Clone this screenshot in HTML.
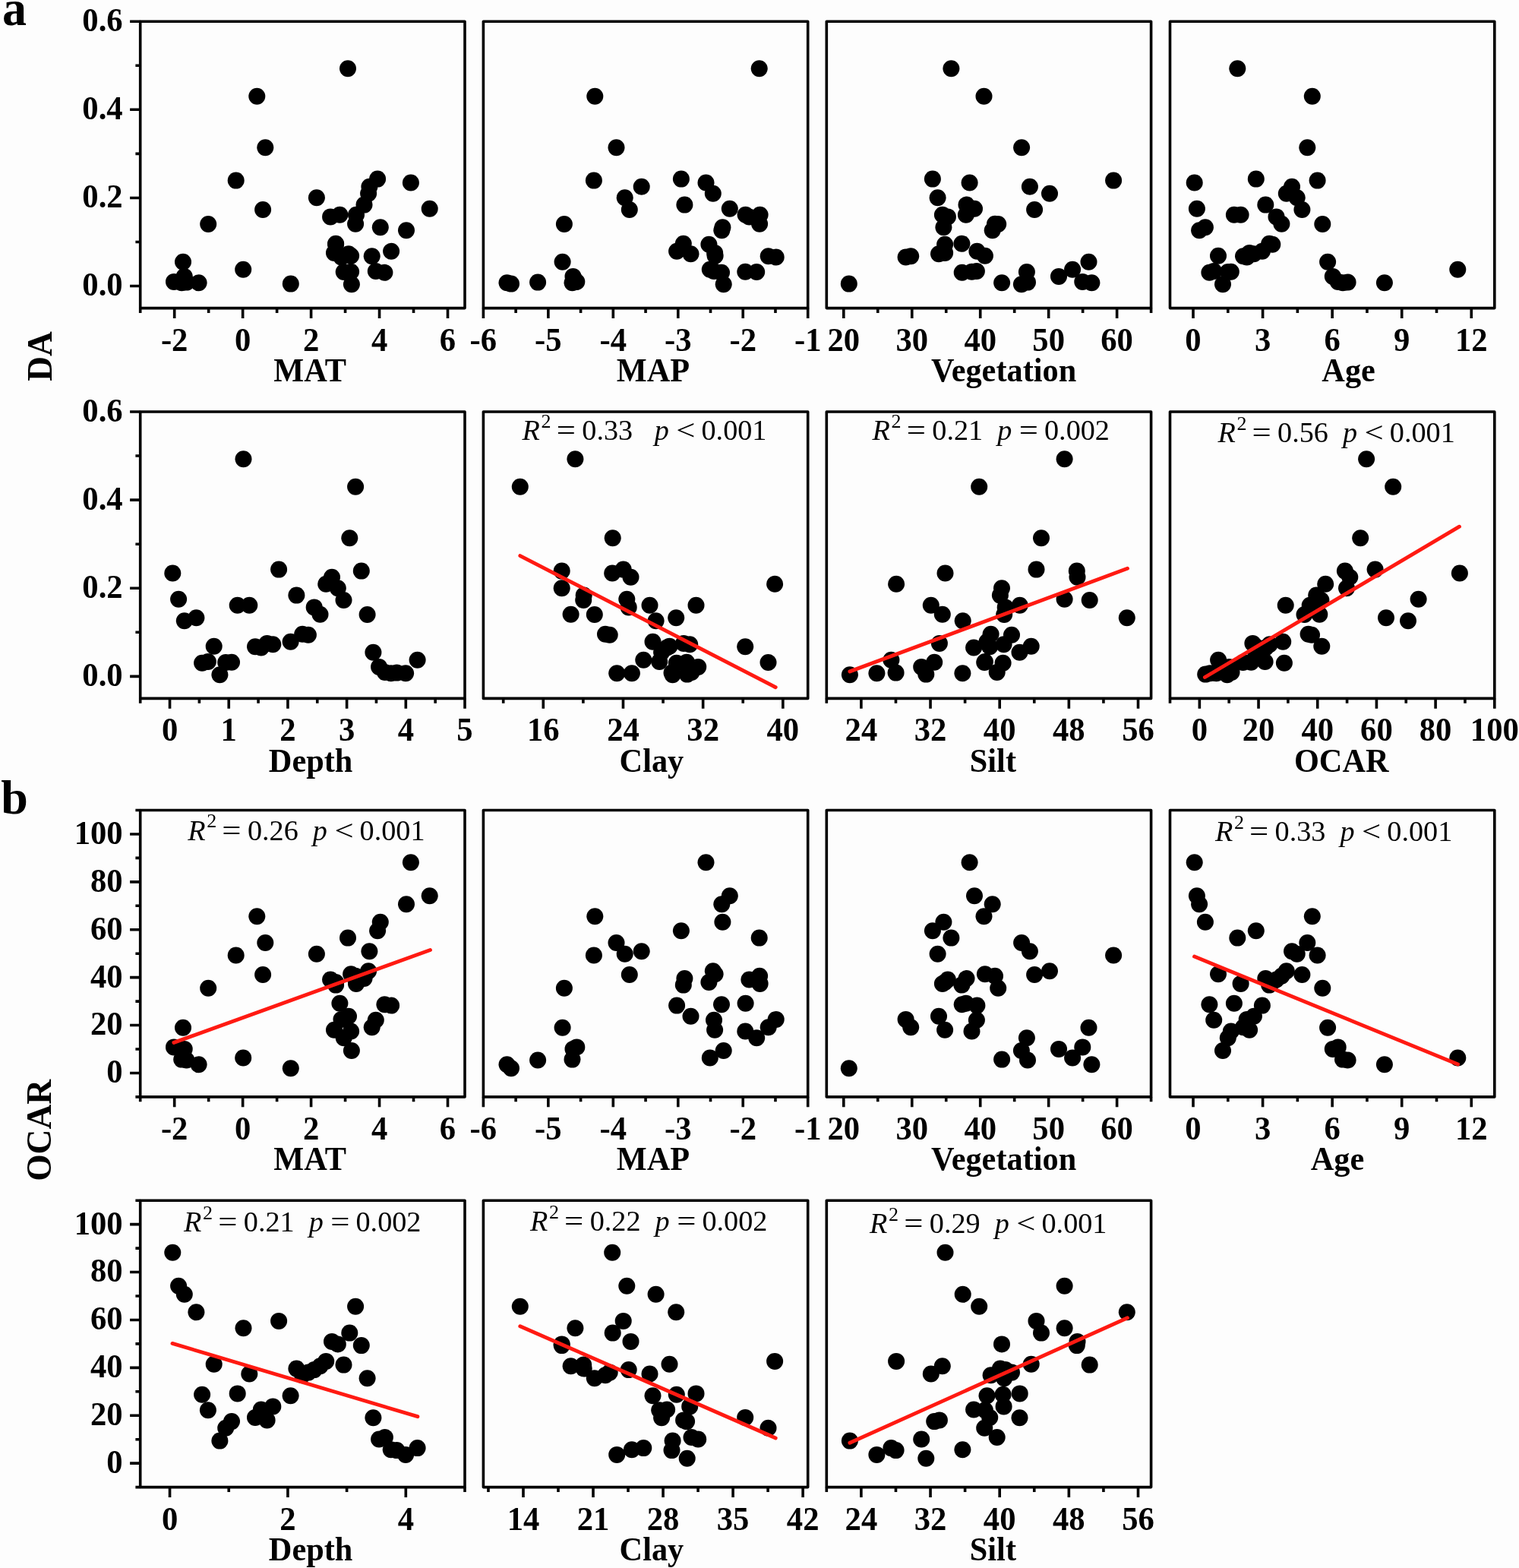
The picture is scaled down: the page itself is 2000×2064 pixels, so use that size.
<!DOCTYPE html>
<html lang="en"><head><meta charset="utf-8"><title>Figure</title>
<style>html,body{margin:0;padding:0;background:#fff}svg{display:block}text{font-family:"Liberation Serif","Times New Roman",serif;fill:#000}.b{font-weight:bold}.t{font-size:42px;font-weight:bold}.l{font-size:42px;font-weight:bold}.an{font-size:38.2px}.i{font-style:italic}</style></head><body>
<svg width="2000" height="2064" viewBox="0 0 2000 2064">
<rect width="2000" height="2064" fill="#fdfdfd"/>
<g id="a_MAT">
<g fill="#000"><circle cx="540.9" cy="240.5" r="11"/><circle cx="565.7" cy="274.8" r="11"/><circle cx="535" cy="303.2" r="11"/><circle cx="500.8" cy="299.2" r="11"/><circle cx="506.4" cy="358.8" r="11"/><circle cx="494.8" cy="357" r="11"/><circle cx="462.1" cy="336.7" r="11"/><circle cx="462.9" cy="374.3" r="11"/><circle cx="452.7" cy="358" r="11"/><circle cx="462.1" cy="357.7" r="11"/><circle cx="447.4" cy="282.8" r="11"/><circle cx="458" cy="90.2" r="11"/><circle cx="469" cy="282.8" r="11"/><circle cx="489.7" cy="337.2" r="11"/><circle cx="449.5" cy="338.5" r="11"/><circle cx="440" cy="332.9" r="11"/><circle cx="459" cy="334.3" r="11"/><circle cx="497.1" cy="235.6" r="11"/><circle cx="515.1" cy="330.8" r="11"/><circle cx="479.5" cy="269.6" r="11"/><circle cx="442.1" cy="320.8" r="11"/><circle cx="442.1" cy="321.7" r="11"/><circle cx="435.1" cy="285.4" r="11"/><circle cx="468.1" cy="294.8" r="11"/><circle cx="485.1" cy="254.8" r="11"/><circle cx="486.4" cy="245.8" r="11"/><circle cx="416.9" cy="260.2" r="11"/><circle cx="346.1" cy="276" r="11"/><circle cx="349.3" cy="194.2" r="11"/><circle cx="338.3" cy="126.8" r="11"/><circle cx="310.7" cy="237.6" r="11"/><circle cx="274.2" cy="295" r="11"/><circle cx="241" cy="344.7" r="11"/><circle cx="242.7" cy="363.9" r="11"/><circle cx="229" cy="370.9" r="11"/><circle cx="239.2" cy="372.3" r="11"/><circle cx="245.6" cy="371.6" r="11"/><circle cx="261.6" cy="372.2" r="11"/><circle cx="320.2" cy="354.8" r="11"/><circle cx="382.8" cy="373.6" r="11"/></g>
<rect x="184.7" y="28.2" width="427.3" height="377.4" fill="none" stroke="#000" stroke-width="3.6" stroke-linejoin="round"/>
<path d="M229.68 405.6v13.4M319.64 405.6v13.4M409.59 405.6v13.4M499.55 405.6v13.4M589.51 405.6v13.4M184.7 405.6v6.3M274.66 405.6v6.3M364.62 405.6v6.3M454.57 405.6v6.3M544.53 405.6v6.3M184.7 376.57h-13.6M184.7 260.45h-13.6M184.7 144.32h-13.6M184.7 28.2h-13.6M184.7 318.51h-6.3M184.7 202.38h-6.3M184.7 86.26h-6.3" stroke="#000" stroke-width="3.6" fill="none"/>
<text class="t" transform="translate(229.68 461.6) scale(1.016 1.038)" text-anchor="middle">-2</text>
<text class="t" transform="translate(319.64 461.6) scale(1.016 1.038)" text-anchor="middle">0</text>
<text class="t" transform="translate(409.59 461.6) scale(1.016 1.038)" text-anchor="middle">2</text>
<text class="t" transform="translate(499.55 461.6) scale(1.016 1.038)" text-anchor="middle">4</text>
<text class="t" transform="translate(589.51 461.6) scale(1.016 1.038)" text-anchor="middle">6</text>
<text class="t" transform="translate(161.7 389.47) scale(1.016 1.038)" text-anchor="end">0.0</text>
<text class="t" transform="translate(161.7 273.35) scale(1.016 1.038)" text-anchor="end">0.2</text>
<text class="t" transform="translate(161.7 157.22) scale(1.016 1.038)" text-anchor="end">0.4</text>
<text class="t" transform="translate(161.7 41.1) scale(1.016 1.038)" text-anchor="end">0.6</text>
<text class="l" transform="translate(408.1 501.9) scale(1.008 1.035)" text-anchor="middle">MAT</text>
</g>
<g id="a_MAP">
<g fill="#000"><circle cx="929.5" cy="240.5" r="11"/><circle cx="960.8" cy="274.8" r="11"/><circle cx="950.3" cy="303.2" r="11"/><circle cx="951.4" cy="299.2" r="11"/><circle cx="950" cy="358.8" r="11"/><circle cx="940" cy="357" r="11"/><circle cx="941.6" cy="336.7" r="11"/><circle cx="952.7" cy="374.3" r="11"/><circle cx="996.2" cy="358" r="11"/><circle cx="981.3" cy="357.7" r="11"/><circle cx="981.6" cy="282.8" r="11"/><circle cx="999.7" cy="90.2" r="11"/><circle cx="1000.6" cy="282.8" r="11"/><circle cx="1011.7" cy="337.2" r="11"/><circle cx="1021.7" cy="338.5" r="11"/><circle cx="941.1" cy="332.9" r="11"/><circle cx="909.5" cy="334.3" r="11"/><circle cx="896.9" cy="235.6" r="11"/><circle cx="891.1" cy="330.8" r="11"/><circle cx="901.4" cy="269.6" r="11"/><circle cx="899.8" cy="320.8" r="11"/><circle cx="933.4" cy="321.7" r="11"/><circle cx="986.4" cy="285.4" r="11"/><circle cx="1000.1" cy="294.8" r="11"/><circle cx="938.8" cy="254.8" r="11"/><circle cx="844.7" cy="245.8" r="11"/><circle cx="822.7" cy="260.2" r="11"/><circle cx="828.8" cy="276" r="11"/><circle cx="811.5" cy="194.2" r="11"/><circle cx="783.3" cy="126.8" r="11"/><circle cx="781.9" cy="237.6" r="11"/><circle cx="742.9" cy="295" r="11"/><circle cx="740.6" cy="344.7" r="11"/><circle cx="754.5" cy="363.9" r="11"/><circle cx="759.3" cy="370.9" r="11"/><circle cx="753.5" cy="372.3" r="11"/><circle cx="708.1" cy="371.6" r="11"/><circle cx="667.5" cy="372.2" r="11"/><circle cx="934.8" cy="354.8" r="11"/><circle cx="673" cy="373.6" r="11"/></g>
<rect x="636.4" y="28.2" width="427.3" height="377.4" fill="none" stroke="#000" stroke-width="3.6" stroke-linejoin="round"/>
<path d="M636.4 405.6v13.4M721.86 405.6v13.4M807.32 405.6v13.4M892.78 405.6v13.4M978.24 405.6v13.4M1063.7 405.6v13.4M679.13 405.6v6.3M764.59 405.6v6.3M850.05 405.6v6.3M935.51 405.6v6.3M1020.97 405.6v6.3" stroke="#000" stroke-width="3.6" fill="none"/>
<text class="t" transform="translate(636.4 461.6) scale(1.016 1.038)" text-anchor="middle">-6</text>
<text class="t" transform="translate(721.86 461.6) scale(1.016 1.038)" text-anchor="middle">-5</text>
<text class="t" transform="translate(807.32 461.6) scale(1.016 1.038)" text-anchor="middle">-4</text>
<text class="t" transform="translate(892.78 461.6) scale(1.016 1.038)" text-anchor="middle">-3</text>
<text class="t" transform="translate(978.24 461.6) scale(1.016 1.038)" text-anchor="middle">-2</text>
<text class="t" transform="translate(1063.7 461.6) scale(1.016 1.038)" text-anchor="middle">-1</text>
<text class="l" transform="translate(860 501.9) scale(1.008 1.035)" text-anchor="middle">MAP</text>
</g>
<g id="a_Veg">
<g fill="#000"><circle cx="1276.6" cy="240.5" r="11"/><circle cx="1283" cy="274.8" r="11"/><circle cx="1306.7" cy="303.2" r="11"/><circle cx="1242.4" cy="299.2" r="11"/><circle cx="1266.7" cy="358.8" r="11"/><circle cx="1285.9" cy="357" r="11"/><circle cx="1296.9" cy="336.7" r="11"/><circle cx="1344.9" cy="374.3" r="11"/><circle cx="1351.9" cy="358" r="11"/><circle cx="1279.5" cy="357.7" r="11"/><circle cx="1271.9" cy="282.8" r="11"/><circle cx="1252.4" cy="90.2" r="11"/><circle cx="1240.9" cy="282.8" r="11"/><circle cx="1199.2" cy="337.2" r="11"/><circle cx="1192.6" cy="338.5" r="11"/><circle cx="1244.1" cy="332.9" r="11"/><circle cx="1236" cy="334.3" r="11"/><circle cx="1227.9" cy="235.6" r="11"/><circle cx="1286.4" cy="330.8" r="11"/><circle cx="1272.5" cy="269.6" r="11"/><circle cx="1266.4" cy="320.8" r="11"/><circle cx="1244.1" cy="321.7" r="11"/><circle cx="1247.9" cy="285.4" r="11"/><circle cx="1310" cy="294.8" r="11"/><circle cx="1382" cy="254.8" r="11"/><circle cx="1355.9" cy="245.8" r="11"/><circle cx="1234.6" cy="260.2" r="11"/><circle cx="1362.1" cy="276" r="11"/><circle cx="1345.1" cy="194.2" r="11"/><circle cx="1295.5" cy="126.8" r="11"/><circle cx="1466.1" cy="237.6" r="11"/><circle cx="1314.2" cy="295" r="11"/><circle cx="1433.5" cy="344.7" r="11"/><circle cx="1394" cy="363.9" r="11"/><circle cx="1425.3" cy="370.9" r="11"/><circle cx="1319.1" cy="372.3" r="11"/><circle cx="1353" cy="371.6" r="11"/><circle cx="1437.4" cy="372.2" r="11"/><circle cx="1412.1" cy="354.8" r="11"/><circle cx="1117.8" cy="373.6" r="11"/></g>
<rect x="1088.3" y="28.2" width="427.3" height="377.4" fill="none" stroke="#000" stroke-width="3.6" stroke-linejoin="round"/>
<path d="M1110.79 405.6v13.4M1200.75 405.6v13.4M1290.71 405.6v13.4M1380.66 405.6v13.4M1470.62 405.6v13.4M1155.77 405.6v6.3M1245.73 405.6v6.3M1335.68 405.6v6.3M1425.64 405.6v6.3M1515.6 405.6v6.3" stroke="#000" stroke-width="3.6" fill="none"/>
<text class="t" transform="translate(1110.79 461.6) scale(1.016 1.038)" text-anchor="middle">20</text>
<text class="t" transform="translate(1200.75 461.6) scale(1.016 1.038)" text-anchor="middle">30</text>
<text class="t" transform="translate(1290.71 461.6) scale(1.016 1.038)" text-anchor="middle">40</text>
<text class="t" transform="translate(1380.66 461.6) scale(1.016 1.038)" text-anchor="middle">50</text>
<text class="t" transform="translate(1470.62 461.6) scale(1.016 1.038)" text-anchor="middle">60</text>
<text class="l" transform="translate(1321.6 501.9) scale(1.008 1.035)" text-anchor="middle">Vegetation</text>
</g>
<g id="a_Age">
<g fill="#000"><circle cx="1572.7" cy="240.5" r="11"/><circle cx="1575.9" cy="274.8" r="11"/><circle cx="1579.1" cy="303.2" r="11"/><circle cx="1586.9" cy="299.2" r="11"/><circle cx="1592.4" cy="358.8" r="11"/><circle cx="1598.2" cy="357" r="11"/><circle cx="1604" cy="336.7" r="11"/><circle cx="1610" cy="374.3" r="11"/><circle cx="1616.8" cy="358" r="11"/><circle cx="1620.8" cy="357.7" r="11"/><circle cx="1624.9" cy="282.8" r="11"/><circle cx="1629.3" cy="90.2" r="11"/><circle cx="1633.6" cy="282.8" r="11"/><circle cx="1637" cy="337.2" r="11"/><circle cx="1641.7" cy="338.5" r="11"/><circle cx="1645.1" cy="332.9" r="11"/><circle cx="1650.9" cy="334.3" r="11"/><circle cx="1653.8" cy="235.6" r="11"/><circle cx="1661.9" cy="330.8" r="11"/><circle cx="1666.3" cy="269.6" r="11"/><circle cx="1671.2" cy="320.8" r="11"/><circle cx="1675.3" cy="321.7" r="11"/><circle cx="1680.5" cy="285.4" r="11"/><circle cx="1687.4" cy="294.8" r="11"/><circle cx="1693.8" cy="254.8" r="11"/><circle cx="1701" cy="245.8" r="11"/><circle cx="1707.7" cy="260.2" r="11"/><circle cx="1714.4" cy="276" r="11"/><circle cx="1721.3" cy="194.2" r="11"/><circle cx="1727.8" cy="126.8" r="11"/><circle cx="1734.6" cy="237.6" r="11"/><circle cx="1741.3" cy="295" r="11"/><circle cx="1748.1" cy="344.7" r="11"/><circle cx="1754.8" cy="363.9" r="11"/><circle cx="1761.7" cy="370.9" r="11"/><circle cx="1768" cy="372.3" r="11"/><circle cx="1774.6" cy="371.6" r="11"/><circle cx="1822.9" cy="372.2" r="11"/><circle cx="1919.3" cy="354.8" r="11"/></g>
<rect x="1540.5" y="28.2" width="427.3" height="377.4" fill="none" stroke="#000" stroke-width="3.6" stroke-linejoin="round"/>
<path d="M1571.02 405.6v13.4M1662.59 405.6v13.4M1754.15 405.6v13.4M1845.71 405.6v13.4M1937.28 405.6v13.4M1616.8 405.6v6.3M1708.37 405.6v6.3M1799.93 405.6v6.3M1891.5 405.6v6.3" stroke="#000" stroke-width="3.6" fill="none"/>
<text class="t" transform="translate(1571.02 461.6) scale(1.016 1.038)" text-anchor="middle">0</text>
<text class="t" transform="translate(1662.59 461.6) scale(1.016 1.038)" text-anchor="middle">3</text>
<text class="t" transform="translate(1754.15 461.6) scale(1.016 1.038)" text-anchor="middle">6</text>
<text class="t" transform="translate(1845.71 461.6) scale(1.016 1.038)" text-anchor="middle">9</text>
<text class="t" transform="translate(1937.28 461.6) scale(1.016 1.038)" text-anchor="middle">12</text>
<text class="l" transform="translate(1775.6 501.9) scale(1.008 1.035)" text-anchor="middle">Age</text>
</g>
<g id="a_Depth">
<g fill="#000"><circle cx="227.3" cy="754.5" r="11"/><circle cx="235.1" cy="788.8" r="11"/><circle cx="242.8" cy="817.2" r="11"/><circle cx="258.4" cy="813.2" r="11"/><circle cx="266.1" cy="872.8" r="11"/><circle cx="273.9" cy="871" r="11"/><circle cx="281.7" cy="850.7" r="11"/><circle cx="289.4" cy="888.3" r="11"/><circle cx="297.2" cy="872" r="11"/><circle cx="305" cy="871.7" r="11"/><circle cx="312.7" cy="796.8" r="11"/><circle cx="320.5" cy="604.2" r="11"/><circle cx="328.3" cy="796.8" r="11"/><circle cx="336" cy="851.2" r="11"/><circle cx="343.8" cy="852.5" r="11"/><circle cx="351.6" cy="846.9" r="11"/><circle cx="359.3" cy="848.3" r="11"/><circle cx="367.1" cy="749.6" r="11"/><circle cx="382.6" cy="844.8" r="11"/><circle cx="390.4" cy="783.6" r="11"/><circle cx="398.2" cy="834.8" r="11"/><circle cx="405.9" cy="835.7" r="11"/><circle cx="413.7" cy="799.4" r="11"/><circle cx="421.5" cy="808.8" r="11"/><circle cx="429.2" cy="768.8" r="11"/><circle cx="437" cy="759.8" r="11"/><circle cx="444.8" cy="774.2" r="11"/><circle cx="452.5" cy="790" r="11"/><circle cx="460.3" cy="708.2" r="11"/><circle cx="468.1" cy="640.8" r="11"/><circle cx="475.8" cy="751.6" r="11"/><circle cx="483.6" cy="809" r="11"/><circle cx="491.4" cy="858.7" r="11"/><circle cx="499.1" cy="877.9" r="11"/><circle cx="506.9" cy="884.9" r="11"/><circle cx="514.7" cy="886.3" r="11"/><circle cx="522.4" cy="885.6" r="11"/><circle cx="534.1" cy="886.2" r="11"/><circle cx="549.6" cy="868.8" r="11"/></g>
<rect x="184.7" y="542" width="427.3" height="377.4" fill="none" stroke="#000" stroke-width="3.6" stroke-linejoin="round"/>
<path d="M223.55 919.4v13.4M301.24 919.4v13.4M378.93 919.4v13.4M456.62 919.4v13.4M534.31 919.4v13.4M612 919.4v13.4M184.7 919.4v6.3M262.39 919.4v6.3M340.08 919.4v6.3M417.77 919.4v6.3M495.46 919.4v6.3M573.15 919.4v6.3M184.7 890.37h-13.6M184.7 774.25h-13.6M184.7 658.12h-13.6M184.7 542h-13.6M184.7 832.31h-6.3M184.7 716.18h-6.3M184.7 600.06h-6.3" stroke="#000" stroke-width="3.6" fill="none"/>
<text class="t" transform="translate(223.55 975.4) scale(1.016 1.038)" text-anchor="middle">0</text>
<text class="t" transform="translate(301.24 975.4) scale(1.016 1.038)" text-anchor="middle">1</text>
<text class="t" transform="translate(378.93 975.4) scale(1.016 1.038)" text-anchor="middle">2</text>
<text class="t" transform="translate(456.62 975.4) scale(1.016 1.038)" text-anchor="middle">3</text>
<text class="t" transform="translate(534.31 975.4) scale(1.016 1.038)" text-anchor="middle">4</text>
<text class="t" transform="translate(612 975.4) scale(1.016 1.038)" text-anchor="middle">5</text>
<text class="t" transform="translate(161.7 903.27) scale(1.016 1.038)" text-anchor="end">0.0</text>
<text class="t" transform="translate(161.7 787.15) scale(1.016 1.038)" text-anchor="end">0.2</text>
<text class="t" transform="translate(161.7 671.02) scale(1.016 1.038)" text-anchor="end">0.4</text>
<text class="t" transform="translate(161.7 554.9) scale(1.016 1.038)" text-anchor="end">0.6</text>
<text class="l" transform="translate(409.1 1015.7) scale(1.008 1.035)" text-anchor="middle">Depth</text>
</g>
<g id="a_Clay">
<g fill="#000"><circle cx="806.2" cy="754.5" r="11"/><circle cx="825.3" cy="788.8" r="11"/><circle cx="863.6" cy="817.2" r="11"/><circle cx="890.2" cy="813.2" r="11"/><circle cx="890.8" cy="872.8" r="11"/><circle cx="868.2" cy="871" r="11"/><circle cx="881.5" cy="850.7" r="11"/><circle cx="885.6" cy="888.3" r="11"/><circle cx="1011.5" cy="872" r="11"/><circle cx="904.1" cy="871.7" r="11"/><circle cx="916.5" cy="796.8" r="11"/><circle cx="757.4" cy="604.2" r="11"/><circle cx="855.5" cy="796.8" r="11"/><circle cx="981.2" cy="851.2" r="11"/><circle cx="878.1" cy="852.5" r="11"/><circle cx="900.1" cy="846.9" r="11"/><circle cx="908.2" cy="848.3" r="11"/><circle cx="820.7" cy="749.6" r="11"/><circle cx="859.5" cy="844.8" r="11"/><circle cx="768.7" cy="783.6" r="11"/><circle cx="797" cy="834.8" r="11"/><circle cx="802.7" cy="835.7" r="11"/><circle cx="827.7" cy="799.4" r="11"/><circle cx="751.6" cy="808.8" r="11"/><circle cx="1020.1" cy="768.8" r="11"/><circle cx="830.5" cy="759.8" r="11"/><circle cx="739.7" cy="774.2" r="11"/><circle cx="768.2" cy="790" r="11"/><circle cx="806.7" cy="708.2" r="11"/><circle cx="684.8" cy="640.8" r="11"/><circle cx="739.7" cy="751.6" r="11"/><circle cx="782.8" cy="809" r="11"/><circle cx="871.1" cy="858.7" r="11"/><circle cx="919.2" cy="877.9" r="11"/><circle cx="910.5" cy="884.9" r="11"/><circle cx="831.9" cy="886.3" r="11"/><circle cx="884.5" cy="885.6" r="11"/><circle cx="812.2" cy="886.2" r="11"/><circle cx="847.3" cy="868.8" r="11"/><circle cx="904.7" cy="887.6" r="11"/></g>
<line x1="684.8" y1="731.6" x2="1021.2" y2="904.7" stroke="#ff1a12" stroke-width="4.9" stroke-linecap="round"/>
<rect x="636.4" y="542" width="427.3" height="377.4" fill="none" stroke="#000" stroke-width="3.6" stroke-linejoin="round"/>
<path d="M715.29 919.4v13.4M820.47 919.4v13.4M925.65 919.4v13.4M1030.83 919.4v13.4M662.7 919.4v6.3M767.88 919.4v6.3M873.06 919.4v6.3M978.24 919.4v6.3" stroke="#000" stroke-width="3.6" fill="none"/>
<text class="t" transform="translate(715.29 975.4) scale(1.016 1.038)" text-anchor="middle">16</text>
<text class="t" transform="translate(820.47 975.4) scale(1.016 1.038)" text-anchor="middle">24</text>
<text class="t" transform="translate(925.65 975.4) scale(1.016 1.038)" text-anchor="middle">32</text>
<text class="t" transform="translate(1030.83 975.4) scale(1.016 1.038)" text-anchor="middle">40</text>
<text class="l" transform="translate(857.9 1015.7) scale(1.008 1.035)" text-anchor="middle">Clay</text>
<text class="an" y="579.1"><tspan class="i" x="687.6">R</tspan><tspan x="712.6" dy="-16.3" font-size="26px">2</tspan><tspan x="766.3" dy="16.3">0.33</tspan><tspan class="i" x="861.7">p</tspan><tspan x="923.5">0.001</tspan></text>
<text class="an" transform="translate(732.7 579.1) scale(1.17 1)">=</text>
<text class="an" transform="translate(890.3 579.1) scale(1.17 1)">&lt;</text>
</g>
<g id="a_Silt">
<g fill="#000"><circle cx="1244.5" cy="754.5" r="11"/><circle cx="1401.6" cy="788.8" r="11"/><circle cx="1267.7" cy="817.2" r="11"/><circle cx="1483.8" cy="813.2" r="11"/><circle cx="1320.6" cy="872.8" r="11"/><circle cx="1296.9" cy="871" r="11"/><circle cx="1357.7" cy="850.7" r="11"/><circle cx="1118.9" cy="888.3" r="11"/><circle cx="1296.2" cy="872" r="11"/><circle cx="1230.2" cy="871.7" r="11"/><circle cx="1342.7" cy="796.8" r="11"/><circle cx="1401.6" cy="604.2" r="11"/><circle cx="1225.8" cy="796.8" r="11"/><circle cx="1303.2" cy="851.2" r="11"/><circle cx="1282.1" cy="852.5" r="11"/><circle cx="1236.9" cy="846.9" r="11"/><circle cx="1321.6" cy="848.3" r="11"/><circle cx="1364.5" cy="749.6" r="11"/><circle cx="1299.5" cy="844.8" r="11"/><circle cx="1316.9" cy="783.6" r="11"/><circle cx="1304.6" cy="834.8" r="11"/><circle cx="1332" cy="835.7" r="11"/><circle cx="1323.7" cy="799.4" r="11"/><circle cx="1240.8" cy="808.8" r="11"/><circle cx="1180.1" cy="768.8" r="11"/><circle cx="1418.5" cy="759.8" r="11"/><circle cx="1319" cy="774.2" r="11"/><circle cx="1434.7" cy="790" r="11"/><circle cx="1371" cy="708.2" r="11"/><circle cx="1289.2" cy="640.8" r="11"/><circle cx="1417.8" cy="751.6" r="11"/><circle cx="1322.2" cy="809" r="11"/><circle cx="1342.5" cy="858.7" r="11"/><circle cx="1213.2" cy="877.9" r="11"/><circle cx="1312.7" cy="884.9" r="11"/><circle cx="1267.4" cy="886.3" r="11"/><circle cx="1179.6" cy="885.6" r="11"/><circle cx="1154.4" cy="886.2" r="11"/><circle cx="1173.4" cy="868.8" r="11"/><circle cx="1219.3" cy="887.6" r="11"/></g>
<line x1="1118.9" y1="883.9" x2="1484.5" y2="748.3" stroke="#ff1a12" stroke-width="4.9" stroke-linecap="round"/>
<rect x="1088.3" y="542" width="427.3" height="377.4" fill="none" stroke="#000" stroke-width="3.6" stroke-linejoin="round"/>
<path d="M1133.88 919.4v13.4M1225.04 919.4v13.4M1316.19 919.4v13.4M1407.35 919.4v13.4M1498.51 919.4v13.4M1088.3 919.4v6.3M1179.46 919.4v6.3M1270.61 919.4v6.3M1361.77 919.4v6.3M1452.93 919.4v6.3" stroke="#000" stroke-width="3.6" fill="none"/>
<text class="t" transform="translate(1133.88 975.4) scale(1.016 1.038)" text-anchor="middle">24</text>
<text class="t" transform="translate(1225.04 975.4) scale(1.016 1.038)" text-anchor="middle">32</text>
<text class="t" transform="translate(1316.19 975.4) scale(1.016 1.038)" text-anchor="middle">40</text>
<text class="t" transform="translate(1407.35 975.4) scale(1.016 1.038)" text-anchor="middle">48</text>
<text class="t" transform="translate(1498.51 975.4) scale(1.016 1.038)" text-anchor="middle">56</text>
<text class="l" transform="translate(1307.4 1015.7) scale(1.008 1.035)" text-anchor="middle">Silt</text>
<text class="an" y="579.1"><tspan class="i" x="1148.6">R</tspan><tspan x="1173.6" dy="-16.3" font-size="26px">2</tspan><tspan x="1227.3" dy="16.3">0.21</tspan><tspan class="i" x="1313.2">p</tspan><tspan x="1375">0.002</tspan></text>
<text class="an" transform="translate(1193.7 579.1) scale(1.17 1)">=</text>
<text class="an" transform="translate(1341.8 579.1) scale(1.17 1)">=</text>
</g>
<g id="a_OCAR">
<g fill="#000"><circle cx="1921.9" cy="754.5" r="11"/><circle cx="1867.6" cy="788.8" r="11"/><circle cx="1854" cy="817.2" r="11"/><circle cx="1825" cy="813.2" r="11"/><circle cx="1690.9" cy="872.8" r="11"/><circle cx="1665.6" cy="871" r="11"/><circle cx="1740.3" cy="850.7" r="11"/><circle cx="1615.8" cy="888.3" r="11"/><circle cx="1636.6" cy="872" r="11"/><circle cx="1647.3" cy="871.7" r="11"/><circle cx="1692.7" cy="796.8" r="11"/><circle cx="1799.1" cy="604.2" r="11"/><circle cx="1724.7" cy="796.8" r="11"/><circle cx="1653.8" cy="851.2" r="11"/><circle cx="1666.6" cy="852.5" r="11"/><circle cx="1649.4" cy="846.9" r="11"/><circle cx="1671.7" cy="848.3" r="11"/><circle cx="1810.6" cy="749.6" r="11"/><circle cx="1689.2" cy="844.8" r="11"/><circle cx="1733.2" cy="783.6" r="11"/><circle cx="1722.6" cy="834.8" r="11"/><circle cx="1727" cy="835.7" r="11"/><circle cx="1731.3" cy="799.4" r="11"/><circle cx="1737.3" cy="808.8" r="11"/><circle cx="1745.2" cy="768.8" r="11"/><circle cx="1777.3" cy="759.8" r="11"/><circle cx="1773" cy="774.2" r="11"/><circle cx="1739.4" cy="790" r="11"/><circle cx="1791.2" cy="708.2" r="11"/><circle cx="1834.2" cy="640.8" r="11"/><circle cx="1770.9" cy="751.6" r="11"/><circle cx="1717.5" cy="809" r="11"/><circle cx="1653.3" cy="858.7" r="11"/><circle cx="1618.4" cy="877.9" r="11"/><circle cx="1621.5" cy="884.9" r="11"/><circle cx="1601.5" cy="886.3" r="11"/><circle cx="1600.4" cy="885.6" r="11"/><circle cx="1593.2" cy="886.2" r="11"/><circle cx="1604.1" cy="868.8" r="11"/><circle cx="1587.2" cy="887.6" r="11"/></g>
<line x1="1586.4" y1="891.5" x2="1921.5" y2="693.2" stroke="#ff1a12" stroke-width="4.9" stroke-linecap="round"/>
<rect x="1540.5" y="542" width="427.3" height="377.4" fill="none" stroke="#000" stroke-width="3.6" stroke-linejoin="round"/>
<path d="M1579.35 919.4v13.4M1657.04 919.4v13.4M1734.73 919.4v13.4M1812.42 919.4v13.4M1890.11 919.4v13.4M1967.8 919.4v13.4M1540.5 919.4v6.3M1618.19 919.4v6.3M1695.88 919.4v6.3M1773.57 919.4v6.3M1851.26 919.4v6.3M1928.95 919.4v6.3" stroke="#000" stroke-width="3.6" fill="none"/>
<text class="t" transform="translate(1579.35 975.4) scale(1.016 1.038)" text-anchor="middle">0</text>
<text class="t" transform="translate(1657.04 975.4) scale(1.016 1.038)" text-anchor="middle">20</text>
<text class="t" transform="translate(1734.73 975.4) scale(1.016 1.038)" text-anchor="middle">40</text>
<text class="t" transform="translate(1812.42 975.4) scale(1.016 1.038)" text-anchor="middle">60</text>
<text class="t" transform="translate(1890.11 975.4) scale(1.016 1.038)" text-anchor="middle">80</text>
<text class="t" transform="translate(1967.8 975.4) scale(1.016 1.038)" text-anchor="middle">100</text>
<text class="l" transform="translate(1766.2 1015.7) scale(1.008 1.035)" text-anchor="middle">OCAR</text>
<text class="an" y="582.2"><tspan class="i" x="1603.4">R</tspan><tspan x="1628.4" dy="-16.3" font-size="26px">2</tspan><tspan x="1682.1" dy="16.3">0.56</tspan><tspan class="i" x="1768">p</tspan><tspan x="1829.8">0.001</tspan></text>
<text class="an" transform="translate(1648.5 582.2) scale(1.17 1)">=</text>
<text class="an" transform="translate(1796.6 582.2) scale(1.17 1)">&lt;</text>
</g>
<g id="b_MAT">
<g fill="#000"><circle cx="540.9" cy="1135.2" r="11"/><circle cx="565.7" cy="1179.2" r="11"/><circle cx="535" cy="1190.2" r="11"/><circle cx="500.8" cy="1213.7" r="11"/><circle cx="506.4" cy="1322.2" r="11"/><circle cx="494.8" cy="1342.7" r="11"/><circle cx="462.1" cy="1282.2" r="11"/><circle cx="462.9" cy="1383" r="11"/><circle cx="452.7" cy="1366.2" r="11"/><circle cx="462.1" cy="1357.5" r="11"/><circle cx="447.4" cy="1320.8" r="11"/><circle cx="458" cy="1234.6" r="11"/><circle cx="469" cy="1294.9" r="11"/><circle cx="489.7" cy="1352.3" r="11"/><circle cx="449.5" cy="1341.9" r="11"/><circle cx="440" cy="1355.8" r="11"/><circle cx="459" cy="1337.8" r="11"/><circle cx="497.1" cy="1225.3" r="11"/><circle cx="515.1" cy="1323.6" r="11"/><circle cx="479.5" cy="1288" r="11"/><circle cx="442.1" cy="1296.6" r="11"/><circle cx="442.1" cy="1293" r="11"/><circle cx="435.1" cy="1289.5" r="11"/><circle cx="468.1" cy="1284.7" r="11"/><circle cx="485.1" cy="1278.3" r="11"/><circle cx="486.4" cy="1252.3" r="11"/><circle cx="416.9" cy="1255.8" r="11"/><circle cx="346.1" cy="1283" r="11"/><circle cx="349.3" cy="1241" r="11"/><circle cx="338.3" cy="1206.2" r="11"/><circle cx="310.7" cy="1257.5" r="11"/><circle cx="274.2" cy="1300.7" r="11"/><circle cx="241" cy="1352.7" r="11"/><circle cx="242.7" cy="1380.9" r="11"/><circle cx="229" cy="1378.4" r="11"/><circle cx="239.2" cy="1394.6" r="11"/><circle cx="245.6" cy="1395.5" r="11"/><circle cx="261.6" cy="1401.3" r="11"/><circle cx="320.2" cy="1392.5" r="11"/><circle cx="382.8" cy="1406.2" r="11"/></g>
<line x1="228.9" y1="1372.4" x2="566.5" y2="1250.5" stroke="#ff1a12" stroke-width="4.9" stroke-linecap="round"/>
<rect x="184.7" y="1066.5" width="427.3" height="377.4" fill="none" stroke="#000" stroke-width="3.6" stroke-linejoin="round"/>
<path d="M229.68 1443.9v13.4M319.64 1443.9v13.4M409.59 1443.9v13.4M499.55 1443.9v13.4M589.51 1443.9v13.4M184.7 1443.9v6.3M274.66 1443.9v6.3M364.62 1443.9v6.3M454.57 1443.9v6.3M544.53 1443.9v6.3M184.7 1412.45h-13.6M184.7 1349.55h-13.6M184.7 1286.65h-13.6M184.7 1223.75h-13.6M184.7 1160.85h-13.6M184.7 1097.95h-13.6M184.7 1443.9h-6.3M184.7 1381h-6.3M184.7 1318.1h-6.3M184.7 1255.2h-6.3M184.7 1192.3h-6.3M184.7 1129.4h-6.3M184.7 1066.5h-6.3" stroke="#000" stroke-width="3.6" fill="none"/>
<text class="t" transform="translate(229.68 1499.9) scale(1.016 1.038)" text-anchor="middle">-2</text>
<text class="t" transform="translate(319.64 1499.9) scale(1.016 1.038)" text-anchor="middle">0</text>
<text class="t" transform="translate(409.59 1499.9) scale(1.016 1.038)" text-anchor="middle">2</text>
<text class="t" transform="translate(499.55 1499.9) scale(1.016 1.038)" text-anchor="middle">4</text>
<text class="t" transform="translate(589.51 1499.9) scale(1.016 1.038)" text-anchor="middle">6</text>
<text class="t" transform="translate(161.7 1425.35) scale(1.016 1.038)" text-anchor="end">0</text>
<text class="t" transform="translate(161.7 1362.45) scale(1.016 1.038)" text-anchor="end">20</text>
<text class="t" transform="translate(161.7 1299.55) scale(1.016 1.038)" text-anchor="end">40</text>
<text class="t" transform="translate(161.7 1236.65) scale(1.016 1.038)" text-anchor="end">60</text>
<text class="t" transform="translate(161.7 1173.75) scale(1.016 1.038)" text-anchor="end">80</text>
<text class="t" transform="translate(161.7 1110.85) scale(1.016 1.038)" text-anchor="end">100</text>
<text class="l" transform="translate(408.1 1540.2) scale(1.008 1.035)" text-anchor="middle">MAT</text>
<text class="an" y="1105.5"><tspan class="i" x="247.2">R</tspan><tspan x="272.2" dy="-16.3" font-size="26px">2</tspan><tspan x="325.9" dy="16.3">0.26</tspan><tspan class="i" x="411.8">p</tspan><tspan x="473.6">0.001</tspan></text>
<text class="an" transform="translate(292.3 1105.5) scale(1.17 1)">=</text>
<text class="an" transform="translate(440.4 1105.5) scale(1.17 1)">&lt;</text>
</g>
<g id="b_MAP">
<g fill="#000"><circle cx="929.5" cy="1135.2" r="11"/><circle cx="960.8" cy="1179.2" r="11"/><circle cx="950.3" cy="1190.2" r="11"/><circle cx="951.4" cy="1213.7" r="11"/><circle cx="950" cy="1322.2" r="11"/><circle cx="940" cy="1342.7" r="11"/><circle cx="941.6" cy="1282.2" r="11"/><circle cx="952.7" cy="1383" r="11"/><circle cx="996.2" cy="1366.2" r="11"/><circle cx="981.3" cy="1357.5" r="11"/><circle cx="981.6" cy="1320.8" r="11"/><circle cx="999.7" cy="1234.6" r="11"/><circle cx="1000.6" cy="1294.9" r="11"/><circle cx="1011.7" cy="1352.3" r="11"/><circle cx="1021.7" cy="1341.9" r="11"/><circle cx="941.1" cy="1355.8" r="11"/><circle cx="909.5" cy="1337.8" r="11"/><circle cx="896.9" cy="1225.3" r="11"/><circle cx="891.1" cy="1323.6" r="11"/><circle cx="901.4" cy="1288" r="11"/><circle cx="899.8" cy="1296.6" r="11"/><circle cx="933.4" cy="1293" r="11"/><circle cx="986.4" cy="1289.5" r="11"/><circle cx="1000.1" cy="1284.7" r="11"/><circle cx="938.8" cy="1278.3" r="11"/><circle cx="844.7" cy="1252.3" r="11"/><circle cx="822.7" cy="1255.8" r="11"/><circle cx="828.8" cy="1283" r="11"/><circle cx="811.5" cy="1241" r="11"/><circle cx="783.3" cy="1206.2" r="11"/><circle cx="781.9" cy="1257.5" r="11"/><circle cx="742.9" cy="1300.7" r="11"/><circle cx="740.6" cy="1352.7" r="11"/><circle cx="754.5" cy="1380.9" r="11"/><circle cx="759.3" cy="1378.4" r="11"/><circle cx="753.5" cy="1394.6" r="11"/><circle cx="708.1" cy="1395.5" r="11"/><circle cx="667.5" cy="1401.3" r="11"/><circle cx="934.8" cy="1392.5" r="11"/><circle cx="673" cy="1406.2" r="11"/></g>
<rect x="636.4" y="1066.5" width="427.3" height="377.4" fill="none" stroke="#000" stroke-width="3.6" stroke-linejoin="round"/>
<path d="M636.4 1443.9v13.4M721.86 1443.9v13.4M807.32 1443.9v13.4M892.78 1443.9v13.4M978.24 1443.9v13.4M1063.7 1443.9v13.4M679.13 1443.9v6.3M764.59 1443.9v6.3M850.05 1443.9v6.3M935.51 1443.9v6.3M1020.97 1443.9v6.3" stroke="#000" stroke-width="3.6" fill="none"/>
<text class="t" transform="translate(636.4 1499.9) scale(1.016 1.038)" text-anchor="middle">-6</text>
<text class="t" transform="translate(721.86 1499.9) scale(1.016 1.038)" text-anchor="middle">-5</text>
<text class="t" transform="translate(807.32 1499.9) scale(1.016 1.038)" text-anchor="middle">-4</text>
<text class="t" transform="translate(892.78 1499.9) scale(1.016 1.038)" text-anchor="middle">-3</text>
<text class="t" transform="translate(978.24 1499.9) scale(1.016 1.038)" text-anchor="middle">-2</text>
<text class="t" transform="translate(1063.7 1499.9) scale(1.016 1.038)" text-anchor="middle">-1</text>
<text class="l" transform="translate(860 1540.2) scale(1.008 1.035)" text-anchor="middle">MAP</text>
</g>
<g id="b_Veg">
<g fill="#000"><circle cx="1276.6" cy="1135.2" r="11"/><circle cx="1283" cy="1179.2" r="11"/><circle cx="1306.7" cy="1190.2" r="11"/><circle cx="1242.4" cy="1213.7" r="11"/><circle cx="1266.7" cy="1322.2" r="11"/><circle cx="1285.9" cy="1342.7" r="11"/><circle cx="1296.9" cy="1282.2" r="11"/><circle cx="1344.9" cy="1383" r="11"/><circle cx="1351.9" cy="1366.2" r="11"/><circle cx="1279.5" cy="1357.5" r="11"/><circle cx="1271.9" cy="1320.8" r="11"/><circle cx="1252.4" cy="1234.6" r="11"/><circle cx="1240.9" cy="1294.9" r="11"/><circle cx="1199.2" cy="1352.3" r="11"/><circle cx="1192.6" cy="1341.9" r="11"/><circle cx="1244.1" cy="1355.8" r="11"/><circle cx="1236" cy="1337.8" r="11"/><circle cx="1227.9" cy="1225.3" r="11"/><circle cx="1286.4" cy="1323.6" r="11"/><circle cx="1272.5" cy="1288" r="11"/><circle cx="1266.4" cy="1296.6" r="11"/><circle cx="1244.1" cy="1293" r="11"/><circle cx="1247.9" cy="1289.5" r="11"/><circle cx="1310" cy="1284.7" r="11"/><circle cx="1382" cy="1278.3" r="11"/><circle cx="1355.9" cy="1252.3" r="11"/><circle cx="1234.6" cy="1255.8" r="11"/><circle cx="1362.1" cy="1283" r="11"/><circle cx="1345.1" cy="1241" r="11"/><circle cx="1295.5" cy="1206.2" r="11"/><circle cx="1466.1" cy="1257.5" r="11"/><circle cx="1314.2" cy="1300.7" r="11"/><circle cx="1433.5" cy="1352.7" r="11"/><circle cx="1394" cy="1380.9" r="11"/><circle cx="1425.3" cy="1378.4" r="11"/><circle cx="1319.1" cy="1394.6" r="11"/><circle cx="1353" cy="1395.5" r="11"/><circle cx="1437.4" cy="1401.3" r="11"/><circle cx="1412.1" cy="1392.5" r="11"/><circle cx="1117.8" cy="1406.2" r="11"/></g>
<rect x="1088.3" y="1066.5" width="427.3" height="377.4" fill="none" stroke="#000" stroke-width="3.6" stroke-linejoin="round"/>
<path d="M1110.79 1443.9v13.4M1200.75 1443.9v13.4M1290.71 1443.9v13.4M1380.66 1443.9v13.4M1470.62 1443.9v13.4M1155.77 1443.9v6.3M1245.73 1443.9v6.3M1335.68 1443.9v6.3M1425.64 1443.9v6.3M1515.6 1443.9v6.3" stroke="#000" stroke-width="3.6" fill="none"/>
<text class="t" transform="translate(1110.79 1499.9) scale(1.016 1.038)" text-anchor="middle">20</text>
<text class="t" transform="translate(1200.75 1499.9) scale(1.016 1.038)" text-anchor="middle">30</text>
<text class="t" transform="translate(1290.71 1499.9) scale(1.016 1.038)" text-anchor="middle">40</text>
<text class="t" transform="translate(1380.66 1499.9) scale(1.016 1.038)" text-anchor="middle">50</text>
<text class="t" transform="translate(1470.62 1499.9) scale(1.016 1.038)" text-anchor="middle">60</text>
<text class="l" transform="translate(1321.6 1540.2) scale(1.008 1.035)" text-anchor="middle">Vegetation</text>
</g>
<g id="b_Age">
<g fill="#000"><circle cx="1572.7" cy="1135.2" r="11"/><circle cx="1575.9" cy="1179.2" r="11"/><circle cx="1579.1" cy="1190.2" r="11"/><circle cx="1586.9" cy="1213.7" r="11"/><circle cx="1592.4" cy="1322.2" r="11"/><circle cx="1598.2" cy="1342.7" r="11"/><circle cx="1604" cy="1282.2" r="11"/><circle cx="1610" cy="1383" r="11"/><circle cx="1616.8" cy="1366.2" r="11"/><circle cx="1620.8" cy="1357.5" r="11"/><circle cx="1624.9" cy="1320.8" r="11"/><circle cx="1629.3" cy="1234.6" r="11"/><circle cx="1633.6" cy="1294.9" r="11"/><circle cx="1637" cy="1352.3" r="11"/><circle cx="1641.7" cy="1341.9" r="11"/><circle cx="1645.1" cy="1355.8" r="11"/><circle cx="1650.9" cy="1337.8" r="11"/><circle cx="1653.8" cy="1225.3" r="11"/><circle cx="1661.9" cy="1323.6" r="11"/><circle cx="1666.3" cy="1288" r="11"/><circle cx="1671.2" cy="1296.6" r="11"/><circle cx="1675.3" cy="1293" r="11"/><circle cx="1680.5" cy="1289.5" r="11"/><circle cx="1687.4" cy="1284.7" r="11"/><circle cx="1693.8" cy="1278.3" r="11"/><circle cx="1701" cy="1252.3" r="11"/><circle cx="1707.7" cy="1255.8" r="11"/><circle cx="1714.4" cy="1283" r="11"/><circle cx="1721.3" cy="1241" r="11"/><circle cx="1727.8" cy="1206.2" r="11"/><circle cx="1734.6" cy="1257.5" r="11"/><circle cx="1741.3" cy="1300.7" r="11"/><circle cx="1748.1" cy="1352.7" r="11"/><circle cx="1754.8" cy="1380.9" r="11"/><circle cx="1761.7" cy="1378.4" r="11"/><circle cx="1768" cy="1394.6" r="11"/><circle cx="1774.6" cy="1395.5" r="11"/><circle cx="1822.9" cy="1401.3" r="11"/><circle cx="1919.3" cy="1392.5" r="11"/></g>
<line x1="1572.5" y1="1259.1" x2="1919.6" y2="1400.9" stroke="#ff1a12" stroke-width="4.9" stroke-linecap="round"/>
<rect x="1540.5" y="1066.5" width="427.3" height="377.4" fill="none" stroke="#000" stroke-width="3.6" stroke-linejoin="round"/>
<path d="M1571.02 1443.9v13.4M1662.59 1443.9v13.4M1754.15 1443.9v13.4M1845.71 1443.9v13.4M1937.28 1443.9v13.4M1616.8 1443.9v6.3M1708.37 1443.9v6.3M1799.93 1443.9v6.3M1891.5 1443.9v6.3" stroke="#000" stroke-width="3.6" fill="none"/>
<text class="t" transform="translate(1571.02 1499.9) scale(1.016 1.038)" text-anchor="middle">0</text>
<text class="t" transform="translate(1662.59 1499.9) scale(1.016 1.038)" text-anchor="middle">3</text>
<text class="t" transform="translate(1754.15 1499.9) scale(1.016 1.038)" text-anchor="middle">6</text>
<text class="t" transform="translate(1845.71 1499.9) scale(1.016 1.038)" text-anchor="middle">9</text>
<text class="t" transform="translate(1937.28 1499.9) scale(1.016 1.038)" text-anchor="middle">12</text>
<text class="l" transform="translate(1761 1540.2) scale(1.008 1.035)" text-anchor="middle">Age</text>
<text class="an" y="1106.9"><tspan class="i" x="1599.9">R</tspan><tspan x="1624.9" dy="-16.3" font-size="26px">2</tspan><tspan x="1678.6" dy="16.3">0.33</tspan><tspan class="i" x="1764.5">p</tspan><tspan x="1826.3">0.001</tspan></text>
<text class="an" transform="translate(1645 1106.9) scale(1.17 1)">=</text>
<text class="an" transform="translate(1793.1 1106.9) scale(1.17 1)">&lt;</text>
</g>
<g id="b_Depth">
<g fill="#000"><circle cx="227.3" cy="1648.8" r="11"/><circle cx="235.1" cy="1692.8" r="11"/><circle cx="242.8" cy="1703.8" r="11"/><circle cx="258.4" cy="1727.3" r="11"/><circle cx="266.1" cy="1835.8" r="11"/><circle cx="273.9" cy="1856.3" r="11"/><circle cx="281.7" cy="1795.8" r="11"/><circle cx="289.4" cy="1896.6" r="11"/><circle cx="297.2" cy="1879.8" r="11"/><circle cx="305" cy="1871.1" r="11"/><circle cx="312.7" cy="1834.4" r="11"/><circle cx="320.5" cy="1748.2" r="11"/><circle cx="328.3" cy="1808.5" r="11"/><circle cx="336" cy="1865.9" r="11"/><circle cx="343.8" cy="1855.5" r="11"/><circle cx="351.6" cy="1869.4" r="11"/><circle cx="359.3" cy="1851.4" r="11"/><circle cx="367.1" cy="1738.9" r="11"/><circle cx="382.6" cy="1837.2" r="11"/><circle cx="390.4" cy="1801.6" r="11"/><circle cx="398.2" cy="1810.2" r="11"/><circle cx="405.9" cy="1806.6" r="11"/><circle cx="413.7" cy="1803.1" r="11"/><circle cx="421.5" cy="1798.3" r="11"/><circle cx="429.2" cy="1791.9" r="11"/><circle cx="437" cy="1765.9" r="11"/><circle cx="444.8" cy="1769.4" r="11"/><circle cx="452.5" cy="1796.6" r="11"/><circle cx="460.3" cy="1754.6" r="11"/><circle cx="468.1" cy="1719.8" r="11"/><circle cx="475.8" cy="1771.1" r="11"/><circle cx="483.6" cy="1814.3" r="11"/><circle cx="491.4" cy="1866.3" r="11"/><circle cx="499.1" cy="1894.5" r="11"/><circle cx="506.9" cy="1892" r="11"/><circle cx="514.7" cy="1908.2" r="11"/><circle cx="522.4" cy="1909.1" r="11"/><circle cx="534.1" cy="1914.9" r="11"/><circle cx="549.6" cy="1906.1" r="11"/></g>
<line x1="227" y1="1768.4" x2="549.9" y2="1864.7" stroke="#ff1a12" stroke-width="4.9" stroke-linecap="round"/>
<rect x="184.7" y="1580.2" width="427.3" height="377.4" fill="none" stroke="#000" stroke-width="3.6" stroke-linejoin="round"/>
<path d="M223.55 1957.6v13.4M378.93 1957.6v13.4M534.31 1957.6v13.4M301.24 1957.6v6.3M456.62 1957.6v6.3M612 1957.6v6.3M184.7 1926.15h-13.6M184.7 1863.25h-13.6M184.7 1800.35h-13.6M184.7 1737.45h-13.6M184.7 1674.55h-13.6M184.7 1611.65h-13.6M184.7 1957.6h-6.3M184.7 1894.7h-6.3M184.7 1831.8h-6.3M184.7 1768.9h-6.3M184.7 1706h-6.3M184.7 1643.1h-6.3M184.7 1580.2h-6.3" stroke="#000" stroke-width="3.6" fill="none"/>
<text class="t" transform="translate(223.55 2013.6) scale(1.016 1.038)" text-anchor="middle">0</text>
<text class="t" transform="translate(378.93 2013.6) scale(1.016 1.038)" text-anchor="middle">2</text>
<text class="t" transform="translate(534.31 2013.6) scale(1.016 1.038)" text-anchor="middle">4</text>
<text class="t" transform="translate(161.7 1939.05) scale(1.016 1.038)" text-anchor="end">0</text>
<text class="t" transform="translate(161.7 1876.15) scale(1.016 1.038)" text-anchor="end">20</text>
<text class="t" transform="translate(161.7 1813.25) scale(1.016 1.038)" text-anchor="end">40</text>
<text class="t" transform="translate(161.7 1750.35) scale(1.016 1.038)" text-anchor="end">60</text>
<text class="t" transform="translate(161.7 1687.45) scale(1.016 1.038)" text-anchor="end">80</text>
<text class="t" transform="translate(161.7 1624.55) scale(1.016 1.038)" text-anchor="end">100</text>
<text class="l" transform="translate(409.1 2053.9) scale(1.008 1.035)" text-anchor="middle">Depth</text>
<text class="an" y="1620.9"><tspan class="i" x="242.1">R</tspan><tspan x="267.1" dy="-16.3" font-size="26px">2</tspan><tspan x="320.8" dy="16.3">0.21</tspan><tspan class="i" x="406.7">p</tspan><tspan x="468.5">0.002</tspan></text>
<text class="an" transform="translate(287.2 1620.9) scale(1.17 1)">=</text>
<text class="an" transform="translate(435.3 1620.9) scale(1.17 1)">=</text>
</g>
<g id="b_Clay">
<g fill="#000"><circle cx="806.2" cy="1648.8" r="11"/><circle cx="825.3" cy="1692.8" r="11"/><circle cx="863.6" cy="1703.8" r="11"/><circle cx="890.2" cy="1727.3" r="11"/><circle cx="890.8" cy="1835.8" r="11"/><circle cx="868.2" cy="1856.3" r="11"/><circle cx="881.5" cy="1795.8" r="11"/><circle cx="885.6" cy="1896.6" r="11"/><circle cx="1011.5" cy="1879.8" r="11"/><circle cx="904.1" cy="1871.1" r="11"/><circle cx="916.5" cy="1834.4" r="11"/><circle cx="757.4" cy="1748.2" r="11"/><circle cx="855.5" cy="1808.5" r="11"/><circle cx="981.2" cy="1865.9" r="11"/><circle cx="878.1" cy="1855.5" r="11"/><circle cx="900.1" cy="1869.4" r="11"/><circle cx="908.2" cy="1851.4" r="11"/><circle cx="820.7" cy="1738.9" r="11"/><circle cx="859.5" cy="1837.2" r="11"/><circle cx="768.7" cy="1801.6" r="11"/><circle cx="797" cy="1810.2" r="11"/><circle cx="802.7" cy="1806.6" r="11"/><circle cx="827.7" cy="1803.1" r="11"/><circle cx="751.6" cy="1798.3" r="11"/><circle cx="1020.1" cy="1791.9" r="11"/><circle cx="830.5" cy="1765.9" r="11"/><circle cx="739.7" cy="1769.4" r="11"/><circle cx="768.2" cy="1796.6" r="11"/><circle cx="806.7" cy="1754.6" r="11"/><circle cx="684.8" cy="1719.8" r="11"/><circle cx="739.7" cy="1771.1" r="11"/><circle cx="782.8" cy="1814.3" r="11"/><circle cx="871.1" cy="1866.3" r="11"/><circle cx="919.2" cy="1894.5" r="11"/><circle cx="910.5" cy="1892" r="11"/><circle cx="831.9" cy="1908.2" r="11"/><circle cx="884.5" cy="1909.1" r="11"/><circle cx="812.2" cy="1914.9" r="11"/><circle cx="847.3" cy="1906.1" r="11"/><circle cx="904.7" cy="1919.8" r="11"/></g>
<line x1="684.8" y1="1745.8" x2="1021.2" y2="1892.9" stroke="#ff1a12" stroke-width="4.9" stroke-linecap="round"/>
<rect x="636.4" y="1580.2" width="427.3" height="377.4" fill="none" stroke="#000" stroke-width="3.6" stroke-linejoin="round"/>
<path d="M688.99 1957.6v13.4M781.02 1957.6v13.4M873.06 1957.6v13.4M965.09 1957.6v13.4M1057.13 1957.6v13.4M642.97 1957.6v6.3M735.01 1957.6v6.3M827.04 1957.6v6.3M919.08 1957.6v6.3M1011.11 1957.6v6.3" stroke="#000" stroke-width="3.6" fill="none"/>
<text class="t" transform="translate(688.99 2013.6) scale(1.016 1.038)" text-anchor="middle">14</text>
<text class="t" transform="translate(781.02 2013.6) scale(1.016 1.038)" text-anchor="middle">21</text>
<text class="t" transform="translate(873.06 2013.6) scale(1.016 1.038)" text-anchor="middle">28</text>
<text class="t" transform="translate(965.09 2013.6) scale(1.016 1.038)" text-anchor="middle">35</text>
<text class="t" transform="translate(1057.13 2013.6) scale(1.016 1.038)" text-anchor="middle">42</text>
<text class="l" transform="translate(857.9 2053.9) scale(1.008 1.035)" text-anchor="middle">Clay</text>
<text class="an" y="1620.2"><tspan class="i" x="698">R</tspan><tspan x="723" dy="-16.3" font-size="26px">2</tspan><tspan x="776.7" dy="16.3">0.22</tspan><tspan class="i" x="862.6">p</tspan><tspan x="924.4">0.002</tspan></text>
<text class="an" transform="translate(743.1 1620.2) scale(1.17 1)">=</text>
<text class="an" transform="translate(891.2 1620.2) scale(1.17 1)">=</text>
</g>
<g id="b_Silt">
<g fill="#000"><circle cx="1244.5" cy="1648.8" r="11"/><circle cx="1401.6" cy="1692.8" r="11"/><circle cx="1267.7" cy="1703.8" r="11"/><circle cx="1483.8" cy="1727.3" r="11"/><circle cx="1320.6" cy="1835.8" r="11"/><circle cx="1296.9" cy="1856.3" r="11"/><circle cx="1357.7" cy="1795.8" r="11"/><circle cx="1118.9" cy="1896.6" r="11"/><circle cx="1296.2" cy="1879.8" r="11"/><circle cx="1230.2" cy="1871.1" r="11"/><circle cx="1342.7" cy="1834.4" r="11"/><circle cx="1401.6" cy="1748.2" r="11"/><circle cx="1225.8" cy="1808.5" r="11"/><circle cx="1303.2" cy="1865.9" r="11"/><circle cx="1282.1" cy="1855.5" r="11"/><circle cx="1236.9" cy="1869.4" r="11"/><circle cx="1321.6" cy="1851.4" r="11"/><circle cx="1364.5" cy="1738.9" r="11"/><circle cx="1299.5" cy="1837.2" r="11"/><circle cx="1316.9" cy="1801.6" r="11"/><circle cx="1304.6" cy="1810.2" r="11"/><circle cx="1332" cy="1806.6" r="11"/><circle cx="1323.7" cy="1803.1" r="11"/><circle cx="1240.8" cy="1798.3" r="11"/><circle cx="1180.1" cy="1791.9" r="11"/><circle cx="1418.5" cy="1765.9" r="11"/><circle cx="1319" cy="1769.4" r="11"/><circle cx="1434.7" cy="1796.6" r="11"/><circle cx="1371" cy="1754.6" r="11"/><circle cx="1289.2" cy="1719.8" r="11"/><circle cx="1417.8" cy="1771.1" r="11"/><circle cx="1322.2" cy="1814.3" r="11"/><circle cx="1342.5" cy="1866.3" r="11"/><circle cx="1213.2" cy="1894.5" r="11"/><circle cx="1312.7" cy="1892" r="11"/><circle cx="1267.4" cy="1908.2" r="11"/><circle cx="1179.6" cy="1909.1" r="11"/><circle cx="1154.4" cy="1914.9" r="11"/><circle cx="1173.4" cy="1906.1" r="11"/><circle cx="1219.3" cy="1919.8" r="11"/></g>
<line x1="1118.9" y1="1899.2" x2="1484.5" y2="1734.7" stroke="#ff1a12" stroke-width="4.9" stroke-linecap="round"/>
<rect x="1088.3" y="1580.2" width="427.3" height="377.4" fill="none" stroke="#000" stroke-width="3.6" stroke-linejoin="round"/>
<path d="M1133.88 1957.6v13.4M1225.04 1957.6v13.4M1316.19 1957.6v13.4M1407.35 1957.6v13.4M1498.51 1957.6v13.4M1088.3 1957.6v6.3M1179.46 1957.6v6.3M1270.61 1957.6v6.3M1361.77 1957.6v6.3M1452.93 1957.6v6.3" stroke="#000" stroke-width="3.6" fill="none"/>
<text class="t" transform="translate(1133.88 2013.6) scale(1.016 1.038)" text-anchor="middle">24</text>
<text class="t" transform="translate(1225.04 2013.6) scale(1.016 1.038)" text-anchor="middle">32</text>
<text class="t" transform="translate(1316.19 2013.6) scale(1.016 1.038)" text-anchor="middle">40</text>
<text class="t" transform="translate(1407.35 2013.6) scale(1.016 1.038)" text-anchor="middle">48</text>
<text class="t" transform="translate(1498.51 2013.6) scale(1.016 1.038)" text-anchor="middle">56</text>
<text class="l" transform="translate(1307.4 2053.9) scale(1.008 1.035)" text-anchor="middle">Silt</text>
<text class="an" y="1622.9"><tspan class="i" x="1145.1">R</tspan><tspan x="1170.1" dy="-16.3" font-size="26px">2</tspan><tspan x="1223.8" dy="16.3">0.29</tspan><tspan class="i" x="1309.7">p</tspan><tspan x="1371.5">0.001</tspan></text>
<text class="an" transform="translate(1190.2 1622.9) scale(1.17 1)">=</text>
<text class="an" transform="translate(1338.3 1622.9) scale(1.17 1)">&lt;</text>
</g>
<text class="b" transform="translate(3 33.3) scale(1 1.04)" font-size="64px">a</text>
<text class="b" transform="translate(1.3 1070.6)" font-size="64px">b</text>
<text class="b" font-size="45.5px" transform="translate(67.5 468.9) rotate(-90) scale(1 1.033)" text-anchor="middle">DA</text>
<text class="b" font-size="45.5px" transform="translate(66.9 1487.8) rotate(-90) scale(1 1.033)" text-anchor="middle">OCAR</text>
</svg></body></html>
